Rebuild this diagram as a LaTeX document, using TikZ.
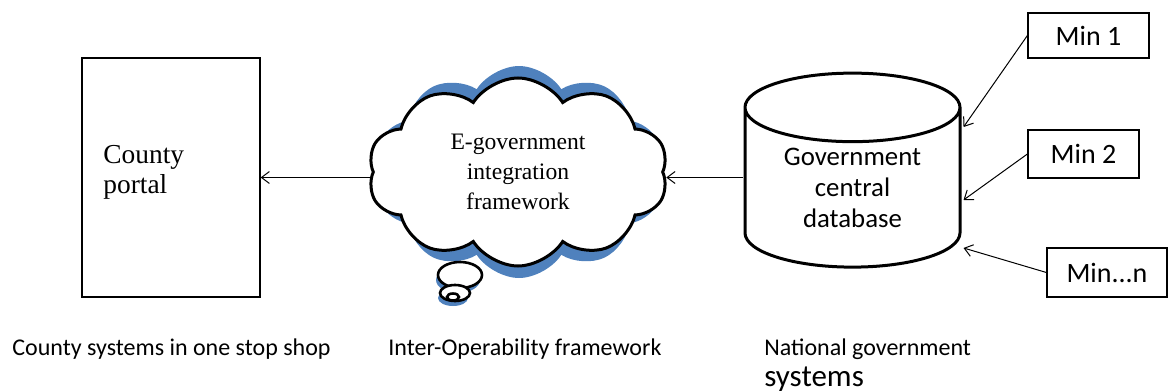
\documentclass[tikz,border=0pt]{standalone}
\usepackage{fontspec}
\setmainfont{Liberation Serif}
\newfontfamily\calib{Carlito}
\usetikzlibrary{shapes.geometric,shapes.symbols,arrows.meta,positioning}
\definecolor{shadeblue}{HTML}{4F81BD}
\begin{document}
\begin{tikzpicture}[x=0.5pt,y=-0.5pt,>={Straight Barb[length=4pt,width=6pt]},
	minbox/.style={draw,line width=0.6pt,inner sep=0,font=\calib\fontsize{14}{17}\selectfont},
	caption/.style={anchor=base west,inner sep=0,font=\calib\fontsize{12}{15}\selectfont},
	puff/.style={cloud,cloud puffs=10,cloud puff arc=115,cloud ignores aspect,minimum width=150pt,minimum height=94pt,inner sep=0}]
	\useasboundingbox (0,0) rectangle (1169,391);
	% county side
	\node[draw,line width=0.6pt,minimum width=89pt,minimum height=119.5pt,inner sep=0] (portal) at (171,177.5) {};
	\node[anchor=north west,align=left,inner sep=0,font=\fontsize{13.7}{15}\selectfont] (portaltxt) at (103,145) {County\\portal};
	% cloud with its blue shade
	\node[puff,fill=shadeblue,minimum width=145pt,minimum height=106pt] (cloudshade) at (519,172) {};
	\foreach \x/\y/\rx/\ry in {460/275/22/13,455/293/15/8}
		\fill[shadeblue] (\x-2,\y+5) ellipse[x radius=\rx*0.5pt,y radius=\ry*0.5pt];
	\node[puff,draw,fill=white,line width=1.5pt,align=center,font=\fontsize{11.8}{15}\selectfont] (cloud) at (518,172) {E-government\\integration\\framework};
	\foreach \x/\y/\rx/\ry in {460/275/22/13,455/293/15/8,453/297/6/3.5}
		\draw[line width=1.3pt,fill=white] (\x,\y) ellipse[x radius=\rx*0.5pt,y radius=\ry*0.5pt];
	% national side
	\node[cylinder,shape border rotate=90,draw,line width=1.5pt,aspect=0.5,minimum width=107.5pt,minimum height=97pt,inner sep=0,align=center,font=\calib\fontsize{13.4}{15.5}\selectfont] (db) at (852.5,188) {Government\\central\\database};
	\node[minbox,minimum width=60.5pt,minimum height=22.5pt] (min1) at (1088.5,35.5) {Min 1};
	\node[minbox,minimum width=55.5pt,minimum height=24pt] (min2) at (1083.5,154) {Min 2};
	\node[minbox,minimum width=60pt,minimum height=24.5pt] (minn) at (1107,272.5) {Min...n};
	% connectors
	\draw[->,line width=0.5pt] (cloud.west|-portal.east) -- (portal.east);
	\draw[->,line width=0.5pt] (db.west|-portal.east) -- ([xshift=1pt]cloud.east|-portal.east);
	\draw[->,line width=0.5pt] (min1.west) -- ([yshift=30.5pt,xshift=1pt]db.east);
	\draw[->,line width=0.5pt] (min2.west) -- ([yshift=-6pt,xshift=1pt]db.east);
	\draw[->,line width=0.5pt] (minn.west) -- ([yshift=-30pt,xshift=1pt]db.east);
	% captions
	\node[caption] (capcounty) at (12,355) {County systems in one stop shop};
	\node[caption] (capinter) at (388,355) {Inter-Operability framework};
	\node[caption] (capnat) at (764,355) {National government};
	\node[caption,font=\calib\fontsize{15.5}{18}\selectfont] (capsys) at (764,386) {systems};
\end{tikzpicture}
\end{document}
